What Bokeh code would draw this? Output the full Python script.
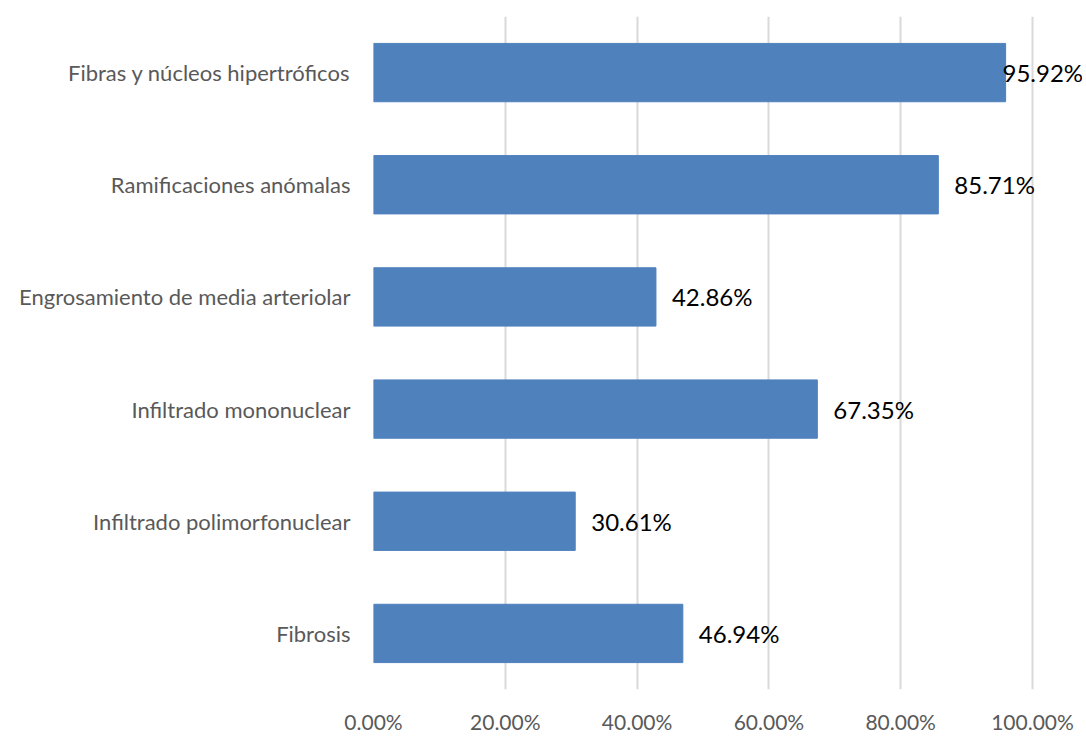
from bokeh.plotting import figure
from bokeh.models import ColumnDataSource, FixedTicker, NumeralTickFormatter, Range1d
from bokeh.core.properties import value
from bokeh.embed import file_html
from bokeh.resources import INLINE

# Hallazgos histológicos y su frecuencia (proporción de casos)
categories = [
    "Fibrosis",
    "Infiltrado polimorfonuclear",
    "Infiltrado mononuclear",
    "Engrosamiento de media arteriolar",
    "Ramificaciones anómalas",
    "Fibras y núcleos hipertróficos",
]
proportions = [0.4694, 0.3061, 0.6735, 0.4286, 0.8571, 0.9592]
x_ticks = [0.0, 0.2, 0.4, 0.6, 0.8, 1.0]

FONT = "Lato"
W, H = 1086, 736
LEFT, RIGHT, TOP, BOTTOM = 373, 4, 16, 44
frame_w = W - LEFT - RIGHT
px_per_unit = (1032 - 373) / 1.0
x_end = frame_w / px_per_unit

# Value labels sit just past the bar end, pulled back when they would leave the frame
label_gap = 16 / px_per_unit
label_w = 80 / px_per_unit
label_x = [min(v + label_gap, x_end - label_w) for v in proportions]
labels = [f"{v * 100:.2f}%" for v in proportions]

src = ColumnDataSource(dict(cat=categories, val=proportions, lx=label_x, txt=labels))

p = figure(
    width=W, height=H, y_range=categories, x_range=Range1d(0, x_end),
    output_backend="svg", toolbar_location=None,
    min_border_left=LEFT, min_border_right=RIGHT,
    min_border_top=TOP, min_border_bottom=BOTTOM,
)
p.outline_line_color = None
p.background_fill_color = "white"
p.border_fill_color = "white"

p.hbar(y="cat", right="val", left=0, height=0.52, source=src,
       fill_color="#4F81BD", line_color="#4F81BD")

p.text(x="lx", y="cat", text="txt", source=src, text_align="left",
       text_baseline="middle", text_font=value(FONT), text_font_size="24px",
       text_color="#000000")

# Horizontal axis: percentage ticks, light vertical gridlines
p.xaxis.ticker = FixedTicker(ticks=x_ticks)
p.xaxis.formatter = NumeralTickFormatter(format="0.00%")
p.xaxis.axis_line_color = None
p.xaxis.major_tick_line_color = None
p.xaxis.minor_tick_line_color = None
p.xaxis.major_tick_out = 0
p.xaxis.major_tick_in = 0
p.xaxis.major_label_standoff = 19
p.xaxis.major_label_text_font = FONT
p.xaxis.major_label_text_font_size = "21px"
p.xaxis.major_label_text_color = "#595959"

p.xgrid.grid_line_color = "#D9D9D9"
p.xgrid.grid_line_width = 2
p.ygrid.grid_line_color = None

# Category axis
p.yaxis.axis_line_color = None
p.yaxis.major_tick_line_color = None
p.yaxis.minor_tick_line_color = None
p.yaxis.major_tick_out = 0
p.yaxis.major_tick_in = 0
p.yaxis.major_label_standoff = 23
p.yaxis.major_label_text_font = FONT
p.yaxis.major_label_text_font_size = "22px"
p.yaxis.major_label_text_color = "#595959"

open("out.html", "w").write(file_html(p, INLINE))
